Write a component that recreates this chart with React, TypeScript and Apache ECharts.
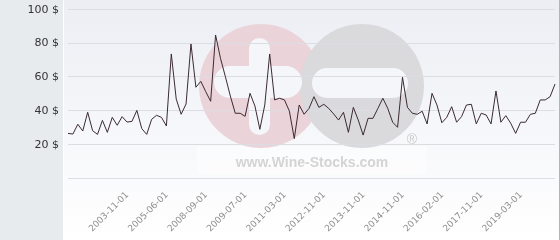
import React, { useEffect, useRef } from "react";
import * as echarts from "echarts";

const categories: string[] = [
  "2001-06-01", "2001-08-01", "2001-10-01", "2001-12-01", "2002-02-01", "2002-04-01", "2002-06-01", "2002-08-01", "2002-10-01", "2003-01-01",
  "2003-04-01", "2003-07-01", "2003-11-01", "2004-01-01", "2004-03-01", "2004-05-01", "2004-07-01", "2004-09-01", "2004-12-01", "2005-03-01",
  "2005-06-01", "2005-11-01", "2006-04-01", "2006-09-01", "2007-02-01", "2007-06-01", "2007-10-01", "2008-03-01", "2008-09-01", "2008-10-01",
  "2008-11-01", "2009-01-01", "2009-02-01", "2009-03-01", "2009-04-01", "2009-05-01", "2009-07-01", "2009-10-01", "2010-01-01", "2010-03-01",
  "2010-06-01", "2010-08-01", "2010-10-01", "2011-01-01", "2011-03-01", "2011-06-01", "2011-08-01", "2011-10-01", "2012-01-01", "2012-03-01",
  "2012-06-01", "2012-09-01", "2012-11-01", "2013-01-01", "2013-03-01", "2013-04-01", "2013-06-01", "2013-07-01", "2013-09-01", "2013-10-01",
  "2013-11-01", "2014-01-01", "2014-02-01", "2014-04-01", "2014-05-01", "2014-07-01", "2014-08-01", "2014-10-01", "2014-11-01", "2015-01-01",
  "2015-03-01", "2015-05-01", "2015-07-01", "2015-09-01", "2015-10-01", "2015-12-01", "2016-02-01", "2016-05-01", "2016-07-01", "2016-10-01",
  "2017-01-01", "2017-03-01", "2017-06-01", "2017-09-01", "2017-11-01", "2018-01-01", "2018-03-01", "2018-05-01", "2018-07-01", "2018-09-01",
  "2018-11-01", "2019-01-01", "2019-03-01", "2019-05-01", "2019-07-01", "2019-09-01", "2019-11-01", "2020-01-01", "2020-03-01", "2020-05-01",
];

const prices: number[] = [
  26.4, 26.0, 31.8, 27.8, 38.9, 28.0, 25.8, 34.1, 27.0, 35.9,
  31.2, 36.3, 33.1, 33.5, 40.0, 29.2, 25.8, 34.7, 37.1, 35.9,
  30.8, 73.4, 46.7, 37.7, 43.8, 79.3, 53.7, 57.2, 51.1, 45.4,
  84.6, 70.8, 59.9, 48.5, 38.3, 38.3, 36.5, 50.1, 42.6, 28.8,
  43.2, 73.4, 46.2, 47.2, 46.2, 39.6, 23.3, 43.2, 37.7, 41.2,
  48.1, 41.8, 43.6, 41.2, 37.9, 34.3, 38.9, 27.0, 41.8, 34.3,
  25.4, 35.3, 35.3, 41.2, 47.2, 41.2, 33.0, 30.0, 59.6, 41.8,
  38.3, 37.7, 39.5, 32.0, 50.1, 43.2, 32.7, 35.9, 42.2, 33.0,
  36.3, 43.2, 43.6, 32.0, 38.3, 37.3, 32.0, 51.5, 33.0, 36.9,
  32.4, 26.4, 33.0, 33.0, 37.7, 38.3, 46.2, 46.2, 48.1, 55.6,
];

const shownDates: string[] = [
  "2003-11-01", "2005-06-01", "2008-09-01", "2009-07-01", "2011-03-01", "2012-11-01",
  "2013-11-01", "2014-11-01", "2016-02-01", "2017-11-01", "2019-03-01",
];

const yMin = 0;
const yMax = 100;
const yStep = 20;
const currency = "$";
const watermarkText = "www.Wine-Stocks.com";

const FONT = "DejaVu Sans";
const BG = "#f5f6f9";

export default function App() {
  const ref = useRef<HTMLDivElement>(null);

  useEffect(() => {
    if (!ref.current) return;
    const chart = echarts.init(ref.current, null, { renderer: "svg" });
    chart.setOption({
      animation: false,
      grid: { left: 68, right: 5, top: 9, bottom: 62 },
      xAxis: {
        type: "category",
        data: categories,
        boundaryGap: false,
        axisLine: { show: false },
        axisTick: { show: false },
        splitLine: { show: false },
        axisLabel: {
          interval: (_i: number, v: string) => shownDates.includes(v),
          rotate: 45,
          fontSize: 9,
          fontFamily: FONT,
          color: "#8e8e8e",
          margin: 15,
        },
      },
      yAxis: {
        type: "value",
        min: yMin,
        max: yMax,
        interval: yStep,
        axisLine: { show: false },
        axisTick: { show: false },
        splitLine: { lineStyle: { color: "#dcdde2", width: 1 } },
        axisLabel: {
          formatter: (v: number) => (v === 0 ? "" : `${v} ${currency}`),
          color: "#333333",
          fontSize: 11,
          fontFamily: FONT,
          margin: 9,
        },
      },
      series: [
        {
          type: "line",
          data: prices,
          symbol: "none",
          lineStyle: { color: "#3b2a31", width: 1 },
          z: 5,
        },
      ],
      graphic: [
        {
          type: "rect",
          z: -20,
          shape: { x: 0, y: 0, width: 63, height: 240 },
          style: { fill: "#e7ebee" },
        },
        {
          type: "rect",
          z: -20,
          shape: { x: 63, y: 0, width: 497, height: 240 },
          style: {
            fill: new echarts.graphic.LinearGradient(0, 0, 0, 1, [
              { offset: 0, color: "#eceef4" },
              { offset: 1, color: "#ffffff" },
            ]),
          },
        },
        {
          type: "line",
          z: -19,
          shape: { x1: 63.5, y1: 0, x2: 63.5, y2: 240 },
          style: { stroke: "#ffffff", lineWidth: 1 },
        },
        {
          type: "line",
          z: -19,
          shape: { x1: 559.5, y1: 0, x2: 559.5, y2: 240 },
          style: { stroke: "#b4b4b4", lineWidth: 1 },
        },
        {
          type: "rect",
          z: -15,
          shape: { x: 197, y: 146, width: 230, height: 28 },
          style: { fill: "rgba(255,255,255,0.45)" },
        },
        {
          type: "circle",
          z: -15,
          shape: { cx: 261, cy: 86, r: 62 },
          style: { fill: "#ead3d9" },
        },
        {
          type: "circle",
          z: -14,
          shape: { cx: 362, cy: 86, r: 62 },
          style: { fill: "#dadadc" },
        },
        {
          type: "rect",
          z: -13,
          shape: { x: 249, y: 38, width: 21, height: 97, r: 10.5 },
          style: { fill: BG },
        },
        {
          type: "rect",
          z: -13,
          shape: { x: 214, y: 66, width: 88, height: 32, r: 16 },
          style: { fill: BG },
        },
        {
          type: "rect",
          z: -13,
          shape: { x: 312, y: 68, width: 96, height: 30, r: 15 },
          style: { fill: BG },
        },
        {
          type: "text",
          z: -13,
          x: 312,
          y: 162,
          style: {
            text: watermarkText,
            font: "bold 14px 'Liberation Sans', Arial, sans-serif",
            fill: "#d4d4d4",
            align: "center",
            verticalAlign: "middle",
          },
        },
        {
          type: "text",
          z: -13,
          x: 412,
          y: 139,
          style: {
            text: "®",
            font: "14px 'Liberation Sans', Arial, sans-serif",
            fill: "#cacaca",
            align: "center",
            verticalAlign: "middle",
          },
        },
      ],
    });
    return () => chart.dispose();
  }, []);

  return (
    <div
      ref={ref}
      style={{ position: "fixed", left: 0, top: 0, width: 560, height: 240 }}
    />
  );
}
